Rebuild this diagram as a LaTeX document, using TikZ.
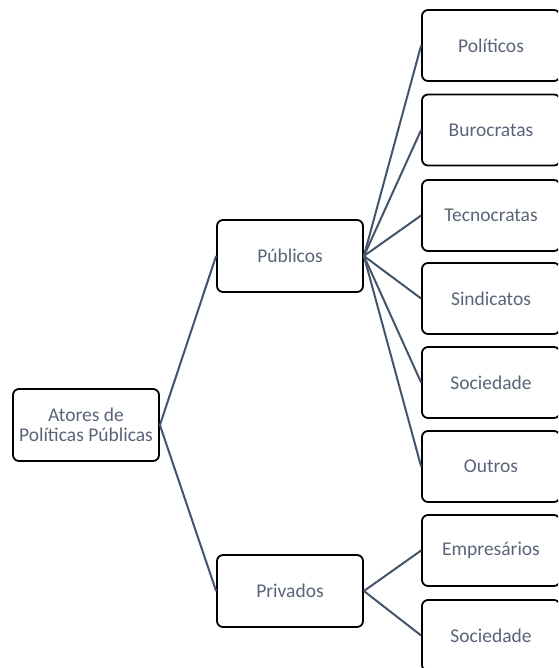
\documentclass[tikz,border=0pt]{standalone}
\usepackage{fontspec}
\setmainfont{Carlito}
\definecolor{linec}{HTML}{44546A}
\definecolor{textc}{HTML}{5A6478}
\begin{document}
\begin{tikzpicture}[x=1pt,y=-1pt,
  box/.style={draw=black,line width=1.8pt,rounded corners=6pt,fill=white,
    minimum width=146pt,minimum height=72pt,inner sep=0pt,
    font=\fontsize{19.5}{20}\selectfont,text=textc,align=center},
  rbox/.style={box,minimum width=138pt,minimum height=71pt},
  conn/.style={draw=linec,line width=2pt}]
\useasboundingbox (0,0) rectangle (558,668);
\clip (0,0) rectangle (558,668);
\node[box] (root) at (86,425) {Atores de\\Políticas Públicas};
\node[box] (pub) at (290,256) {Públicos};
\node[box] (priv) at (290,591) {Privados};
\node[rbox] (pol) at (491,45.5) {Políticos};
\node[rbox] (bur) at (491,130) {Burocratas};
\node[rbox] (tec) at (491,215.5) {Tecnocratas};
\node[rbox] (sin) at (491,298.5) {Sindicatos};
\node[rbox] (soc) at (491,382.5) {Sociedade};
\node[rbox] (out) at (491,466.5) {Outros};
\node[rbox] (emp) at (491,550.5) {Empresários};
\node[rbox] (soc2) at (491,635.5) {Sociedade};
\path[conn] (root.east) -- (pub.west);
\path[conn] (root.east) -- (priv.west);
\foreach \n in {pol,bur,tec,sin,soc,out}
  \path[conn] (pub.east) -- (\n.west);
\foreach \n in {emp,soc2}
  \path[conn] (priv.east) -- (\n.west);
\end{tikzpicture}
\end{document}
